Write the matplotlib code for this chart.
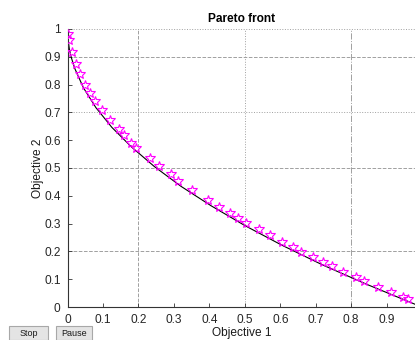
import matplotlib
matplotlib.use("Agg")
import matplotlib.pyplot as plt
from matplotlib.patches import FancyBboxPatch

plt.rcParams['font.family'] = ['Liberation Sans', 'DejaVu Sans']

# ---------------------------------------
# Data: GA solutions and the reference front
# ---------------------------------------
obj1 = [0.001, 0.004, 0.013, 0.023, 0.035, 0.049, 0.063, 0.077, 0.096, 0.119,
        0.145, 0.159, 0.180, 0.194, 0.232, 0.259, 0.292, 0.311, 0.351, 0.395,
        0.426, 0.457, 0.481, 0.504, 0.539, 0.570, 0.606, 0.637, 0.659, 0.692,
        0.720, 0.746, 0.778, 0.813, 0.835, 0.877, 0.912, 0.946, 0.959]
obj2 = [0.981, 0.960, 0.918, 0.874, 0.838, 0.799, 0.771, 0.741, 0.709, 0.673,
        0.639, 0.619, 0.591, 0.573, 0.535, 0.508, 0.478, 0.454, 0.421, 0.385,
        0.361, 0.337, 0.321, 0.301, 0.279, 0.259, 0.233, 0.215, 0.199, 0.181,
        0.161, 0.147, 0.127, 0.107, 0.095, 0.073, 0.055, 0.035, 0.029]

front_x = [0.0, 0.001, 0.005, 0.01, 0.02, 0.045, 0.08, 0.125, 0.18, 0.245,
           0.32, 0.405, 0.5, 0.605, 0.72, 0.845, 0.98, 1.0]
front_y = [1.0, 0.968, 0.929, 0.900, 0.859, 0.788, 0.717, 0.646, 0.576, 0.505,
           0.434, 0.364, 0.293, 0.222, 0.151, 0.081, 0.010, 0.0]

ticks = [0, 0.1, 0.2, 0.3, 0.4, 0.5, 0.6, 0.7, 0.8, 0.9]
xtick_labels = ['0', '0.1', '0.2', '0.3', '0.4', '0.5', '0.6', '0.7', '0.8', '0.9']
yticks = ticks + [1.0]
ytick_labels = xtick_labels + ['1']

# ---------------------------------------
# Figure
# ---------------------------------------
fig = plt.figure(figsize=(4.15, 3.4), dpi=100)
ax = fig.add_axes([0.1627, 0.097, 0.8373, 0.818])

# grid lines that show up in the window
grid_col = '#a0a0a0'
for yv, ls in [(1.0, ':'), (0.9, '--'), (0.7, ':'), (0.5, '--'), (0.2, '--')]:
    ax.axhline(yv, color=grid_col, lw=0.7, ls=ls, zorder=0)
for xv, ls in [(0.2, '--'), (0.5, ':'), (0.8, '-.')]:
    ax.axvline(xv, color=grid_col, lw=0.7, ls=ls, zorder=0)

ax.plot(front_x, front_y, color='black', lw=0.8, zorder=2)
ax.plot(obj1, obj2, ls='none', marker='*', markersize=7,
        markerfacecolor='none', markeredgecolor='#ff00ff',
        markeredgewidth=0.8, zorder=3)

ax.set_xlim(0, 0.98)
ax.set_ylim(0, 1)
ax.set_xticks(ticks)
ax.set_xticklabels(xtick_labels)
ax.set_yticks(yticks)
ax.set_yticklabels(ytick_labels)
ax.tick_params(direction='in', length=3, width=0.6, color='#333333',
               labelsize=8.6, labelcolor='#262626', pad=5)

for side in ['top', 'right']:
    ax.spines[side].set_visible(False)
for side in ['left', 'bottom']:
    ax.spines[side].set_color('#333333')
    ax.spines[side].set_linewidth(0.8)

ax.set_title('Pareto front', fontsize=8.6, fontweight='bold', pad=5)
ax.set_xlabel('Objective 1', fontsize=8.6, color='#1a1a1a', labelpad=0.5)
ax.set_ylabel('Objective 2', fontsize=8.6, color='#1a1a1a', labelpad=0)

# Stop / Pause buttons of the GA window
for (x0, w, label) in [(9, 39, 'Stop'), (56, 36, 'Pause')]:
    btn = FancyBboxPatch((x0 / 415, 0.0), w / 415, 14 / 340,
                         boxstyle='square,pad=0', transform=fig.transFigure,
                         facecolor='#e4e4e4', edgecolor='#a8a8a8', lw=0.8)
    fig.patches.append(btn)
    fig.text((x0 + w / 2) / 415, 7 / 340, label, fontsize=6.5,
             ha='center', va='center', color='#1a1a1a')

fig.savefig('out.png', dpi=100)
